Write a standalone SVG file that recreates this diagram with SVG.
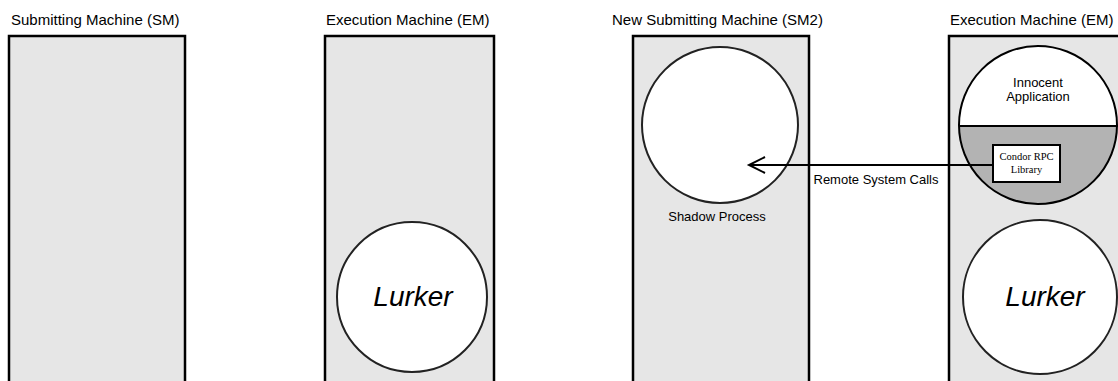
<svg xmlns="http://www.w3.org/2000/svg" width="1118" height="381" viewBox="0 0 1118 381">
  <style>
    .title { font-family: "Liberation Sans", Arial, sans-serif; font-size: 15px; fill: #000; }
    .label { font-family: "Liberation Sans", Arial, sans-serif; font-size: 13px; fill: #000; }
    .lurker { font-family: "Liberation Sans", Arial, sans-serif; font-size: 28px; font-style: italic; fill: #000; }
    .serif { font-family: "Liberation Serif", "Times New Roman", serif; font-size: 10.5px; fill: #000; }
    .machine { fill: #e6e6e6; stroke: #000; stroke-width: 2.5; }
    .proc { fill: #fff; stroke: #222; stroke-width: 2; }
    .conn { fill: none; stroke: #000; stroke-width: 2; }
  </style>
  <defs>
    <clipPath id="appClip">
      <circle cx="1038" cy="125" r="79"/>
    </clipPath>
  </defs>
  <rect width="1118" height="381" fill="#fff"/>

  <!-- Submitting machine -->
  <g id="sm">
    <text class="title" x="11" y="25">Submitting Machine (SM)</text>
    <rect class="machine" x="9" y="36" width="176" height="360"/>
  </g>

  <!-- Execution machine with lurker -->
  <g id="em">
    <text class="title" x="326" y="25">Execution Machine (EM)</text>
    <rect class="machine" x="325" y="36" width="169" height="360"/>
  </g>
  <g id="em-lurker">
    <circle class="proc" cx="412" cy="297" r="75"/>
    <text class="lurker" x="413" y="306" text-anchor="middle">Lurker</text>
  </g>

  <!-- New submitting machine with shadow -->
  <g id="sm2">
    <text class="title" x="612" y="25">New Submitting Machine (SM2)</text>
    <rect class="machine" x="633" y="36" width="176" height="360"/>
  </g>
  <g id="shadow">
    <circle class="proc" cx="720" cy="125" r="78"/>
    <text class="label" x="717" y="221" text-anchor="middle">Shadow Process</text>
  </g>

  <!-- Second execution machine -->
  <g id="em2">
    <text class="title" x="950" y="25">Execution Machine (EM)</text>
    <rect class="machine" x="949" y="36" width="200" height="360"/>
  </g>
  <g id="application">
    <circle cx="1038" cy="125" r="79" fill="#fff"/>
    <rect x="950" y="126" width="180" height="90" fill="#b3b3b3" clip-path="url(#appClip)"/>
    <line x1="950" y1="126" x2="1118" y2="126" stroke="#000" stroke-width="2" clip-path="url(#appClip)"/>
    <line x1="1110" y1="126" x2="1118" y2="126" stroke="#000" stroke-width="2"/>
    <circle cx="1038" cy="125" r="79" fill="none" stroke="#000" stroke-width="2"/>
    <text class="label" x="1038" y="87" text-anchor="middle">Innocent</text>
    <text class="label" x="1038" y="101" text-anchor="middle">Application</text>
  </g>
  <g id="rpc-library">
    <rect x="993" y="145" width="67" height="37" fill="#fff" stroke="#000" stroke-width="2"/>
    <text class="serif" x="1026.5" y="160" text-anchor="middle">Condor RPC</text>
    <text class="serif" x="1026.5" y="173" text-anchor="middle">Library</text>
  </g>
  <g id="em2-lurker">
    <circle class="proc" cx="1040" cy="297" r="77"/>
    <text class="lurker" x="1045" y="306" text-anchor="middle">Lurker</text>
  </g>

  <!-- Connectors -->
  <g id="connectors">
    <line class="conn" x1="993" y1="165" x2="749" y2="165"/>
    <polyline class="conn" points="765,157 749,165 765,173"/>
    <text class="label" x="876" y="184" text-anchor="middle">Remote System Calls</text>
  </g>
</svg>
